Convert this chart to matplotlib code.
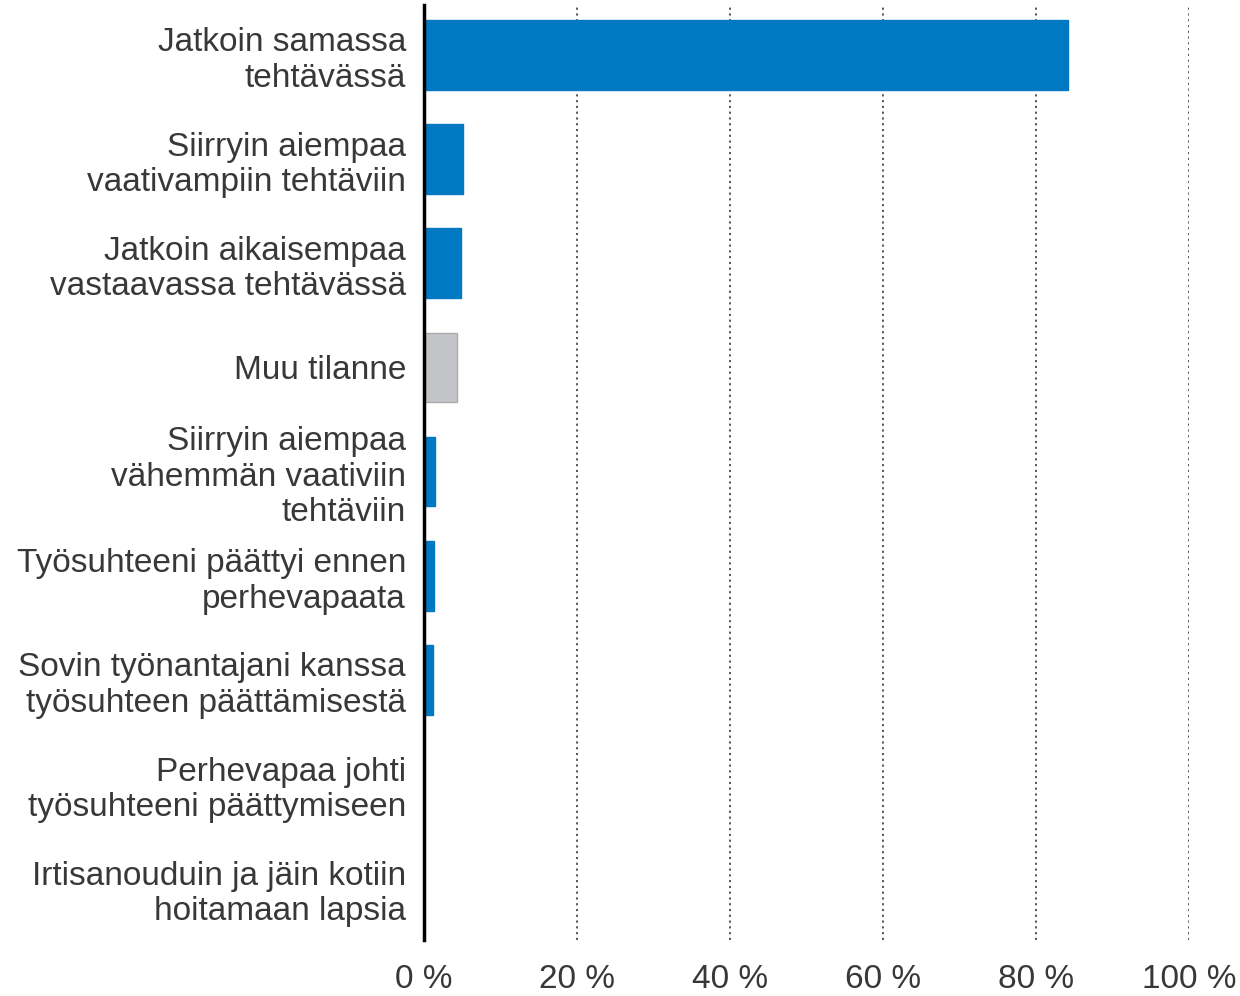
import matplotlib.pyplot as plt

categories = [
    "Jatkoin samassa\ntehtävässä",
    "Siirryin aiempaa\nvaativampiin tehtäviin",
    "Jatkoin aikaisempaa\nvastaavassa tehtävässä",
    "Muu tilanne",
    "Siirryin aiempaa\nvähemmän vaativiin\ntehtäviin",
    "Työsuhteeni päättyi ennen\nperhevapaata",
    "Sovin työnantajani kanssa\ntyösuhteen päättämisestä",
    "Perhevapaa johti\ntyösuhteeni päättymiseen",
    "Irtisanouduin ja jäin kotiin\nhoitamaan lapsia",
]
values = [84.2, 5.1, 4.8, 4.3, 1.4, 1.3, 1.2, 0, 0]
tick_values = [0, 20, 40, 60, 80, 100]
tick_labels = ["0 %", "20 %", "40 %", "60 %", "80 %", "100 %"]

blue = "#0079c2"
grey = "#c3c4c8"
colors = [grey if c == "Muu tilanne" else blue for c in categories]

plt.rcParams["font.family"] = ["Liberation Sans", "DejaVu Sans"]

fig = plt.figure(figsize=(12.4, 9.96), dpi=100)
ax = fig.add_axes([0.342, 0.056, 0.617, 0.939])

ypos = list(range(len(categories)))
ax.barh(ypos, values, height=0.67, color=colors, zorder=3,
        edgecolor=["#a9abaf" if c == grey else blue for c in colors], linewidth=1)

ax.set_xlim(0, 100)
ax.set_ylim(8.5, -0.48)
ax.set_xticks(tick_values)
ax.set_xticklabels(tick_labels, fontsize=24)
ax.set_yticks(ypos)
ax.set_yticklabels(categories, ha="right", linespacing=1.18, fontsize=24)

for x in tick_values[1:]:
    ax.axvline(x, color="#4a4a4a", linestyle=(0, (1.2, 2)), linewidth=1.3, zorder=1)

for s in ["top", "right", "bottom"]:
    ax.spines[s].set_visible(False)
ax.spines["left"].set_linewidth(2.5)
ax.spines["left"].set_color("black")
ax.spines["left"].set_zorder(4)

ax.tick_params(axis="both", length=0, labelcolor="#383838")
ax.tick_params(axis="y", pad=13)
ax.tick_params(axis="x", pad=17)

fig.savefig("out.png", dpi=100)
